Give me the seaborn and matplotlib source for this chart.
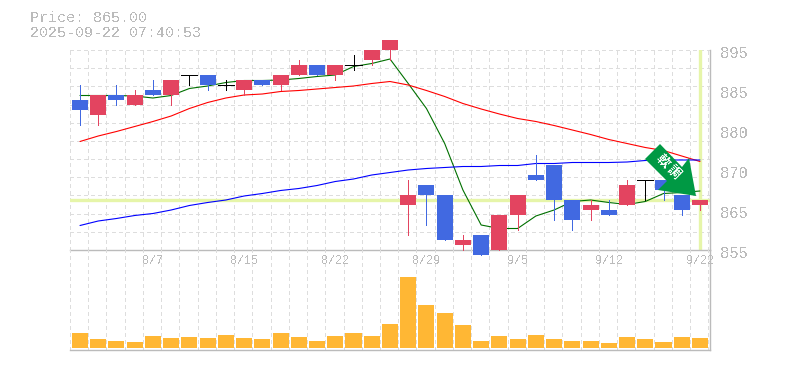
import numpy as np
import pandas as pd
import matplotlib
matplotlib.use("Agg")
import matplotlib.pyplot as plt
from matplotlib.patches import Polygon
from matplotlib.transforms import Affine2D
import seaborn as sns

# daily candles, oldest first
opens = [885,882,886,884,887,886,890,890,888,887,889,888,890,892,890,892,893,895,
         864,868,866,856,858,855,862,870,872,865,863,863,864,869,869,866,864]
closes = [883,886,885,886,886,889,890,888,888,889,888,890,892,890,892,892,895,897,
          866,866,857,857,854,862,866,869,865,861,864,862,868,869,867,863,865]
highs = [888,886,888,887,889,889,890,890,889,889,889,890,893,892,892,894,895,897,
         869,868,866,858,858,862,866,874,872,865,865,865,869,869,869,866,865]
lows = [880,880,884,884,886,884,888,887,887,886,888,887,890,890,889,891,892,893,
        858,860,857,855,854,855,859,869,861,859,861,862,864,865,865,862,863]
volume = [15,9,7,6,12,10,11,10,13,10,9,15,11,7,12,15,12,24,
          71,43,35,23,7,12,9,13,9,7,7,5,11,9,6,11,10]
ma_short = [885.9,885.9,885.9,885.8,885.4,885.9,887.3,887.8,888.5,888.9,888.9,889.0,
            889.3,889.7,890.0,891.7,892.3,893.2,888.3,883.3,876.3,867.0,860.0,859.3,
            859.3,861.8,863.0,864.7,865.0,864.5,864.1,864.7,866.3,866.5,866.8]
ma_mid = [876.7,877.8,878.7,879.7,880.7,881.8,883.3,884.5,885.4,886.0,886.2,886.7,
          886.9,887.2,887.5,887.8,888.3,888.7,888.0,886.9,885.7,884.3,883.2,882.2,
          881.3,880.7,879.9,879.0,878.1,877.1,876.3,875.5,874.9,873.8,872.7]
ma_long = [859.9,860.8,861.3,861.9,862.3,863.0,863.9,864.5,865.0,865.8,866.3,866.9,
           867.3,867.9,868.7,869.2,870.0,870.5,871.0,871.3,871.5,871.7,871.7,871.9,
           871.9,872.3,872.3,872.5,872.5,872.5,872.6,872.9,873.0,873.0,873.0]
date_labels = ["8/7","8/15","8/22","8/29","9/5","9/12","9/22"]
date_idx = [4,9,14,19,24,29,34]
price_ticks = [895,887,879,871,863,855]
price_labels = ["895","885","880","870","865","855"]
last_price = 865.0
stamp = "2025-09-22 07:40:53"

W, H = 785, 370
GRAY = "#bbbbbb"
UP, DOWN = "#e34460", "#4169e1"

sns.set_style("white")
plt.rcParams["font.family"] = ["Liberation Mono", "Noto Sans CJK JP", "DejaVu Sans"]
plt.rcParams["text.antialiased"] = False

def box(x0, y0, x1, y1):
    return [x0/W, 1-y1/H, (x1-x0)/W, (y1-y0)/H]

fig = plt.figure(figsize=(W/100, H/100), dpi=100)
ax = fig.add_axes(box(70, 50, 710, 250))
vol_ax = fig.add_axes(box(70, 250, 710, 350))

df = pd.DataFrame({"i": np.arange(len(opens)), "open": opens, "close": closes, "high": highs,
                   "low": lows, "volume": volume, "short": ma_short, "mid": ma_mid, "long": ma_long})
x_lim = (-0.548, 34.55)

# grid, one dashed line per session
for a in (ax, vol_ax):
    a.set_xlim(*x_lim)
    a.set_facecolor("none")
    for k in range(len(df) + 1):
        a.axvline(k - 0.548, color="#dddddd", lw=0.7, ls=(0, (3.5, 3.5)), zorder=0, antialiased=False)
    for s in a.spines.values():
        s.set_visible(False)
    for side in ("right", "bottom"):
        a.spines[side].set_visible(True)
        a.spines[side].set_color(GRAY)
        a.spines[side].set_linewidth(1.0)

ax.set_ylim(855, 895)
for y in np.linspace(855, 895, 12)[1:]:
    ax.axhline(y, color="#dddddd", lw=0.7, ls=(0, (3.5, 3.5)), zorder=0, antialiased=False)

ax.axhline(last_price, color="#e6f5a9", lw=2.4, zorder=1)
ax.axvline(df["i"].iloc[-1], color="#e6f5a9", lw=2.4, zorder=1)

sns.lineplot(data=df, x="i", y="short", color="#007000", linewidth=0.8, ax=ax, zorder=2, legend=False)
sns.lineplot(data=df, x="i", y="mid", color="#ff0000", linewidth=0.8, ax=ax, zorder=2, legend=False)
sns.lineplot(data=df, x="i", y="long", color="#0000ff", linewidth=0.8, ax=ax, zorder=2, legend=False)

# candles: red up, blue down, black when open == close
wick_col = [UP if c > o else DOWN if c < o else "black" for o, c in zip(df["open"], df["close"])]
bottoms = df[["open", "close"]].min(axis=1)
heights = (df["close"] - df["open"]).abs()
ax.vlines(df["i"], df["low"], df["high"], colors=wick_col, lw=0.7, zorder=3, clip_on=False, antialiased=False)
ax.bar(df["i"], heights, bottom=bottoms, width=0.88, color=wick_col, lw=0, zorder=4, clip_on=False)
for i, row in df[heights == 0].iterrows():
    ax.hlines(row["open"], i - 0.44, i + 0.44, color="black", lw=0.7, zorder=4, antialiased=False)

ax.set_xticks([])
ax.set_yticks([])
ax.set_xlabel("")
ax.set_ylabel("")
ytrans = ax.get_yaxis_transform()
for val, lab in zip(price_ticks, price_labels):
    ax.annotate(lab, xy=(1, val), xycoords=ytrans, xytext=(10, -3), textcoords="offset pixels",
                ha="left", va="center", color=GRAY, fontsize=11.2, annotation_clip=False)

# volume panel
sns.barplot(data=df, x="i", y="volume", color="#ffb734", saturation=1, width=0.88, ax=vol_ax,
            order=list(df["i"]), zorder=3, lw=0)
vol_ax.set_xlim(*x_lim)
vol_ax.set_ylim(-2, 98)
vol_ax.set_yticks([])
vol_ax.set_xlabel("")
vol_ax.set_ylabel("")
vol_ax.set_xticks(date_idx)
vol_ax.xaxis.set_ticks_position("top")
vol_ax.set_xticklabels(date_labels, color=GRAY, fontsize=8.4)
vol_ax.tick_params(axis="x", length=0, pad=-12.5)

fig.text(30/W, 1-18/H, f"Price: {last_price:.2f}", color=GRAY, fontsize=10.8, va="center", ha="left")
fig.text(30/W, 1-33/H, stamp, color=GRAY, fontsize=10.8, va="center", ha="left")

# green signal arrow, outline in image pixels (origin top left)
px = Affine2D().scale(1, -1).translate(0, H)
arrow_x = [645, 660, 682, 689, 696, 658, 667]
arrow_y = [159, 144, 167, 158, 196, 190, 181]
fig.add_artist(Polygon(np.column_stack([arrow_x, arrow_y]), closed=True, facecolor="#009944", lw=0,
                       transform=px, zorder=10))
for ch, gx, gy in zip("\u8edf\u8abf", [662, 673], [162, 173]):
    fig.text(gx/W, 1-gy/H, ch, color="white", fontsize=9.5, rotation=-45, rotation_mode="anchor",
             ha="center", va="center", fontweight="bold", zorder=11)

fig.savefig("out.png", dpi=100)
